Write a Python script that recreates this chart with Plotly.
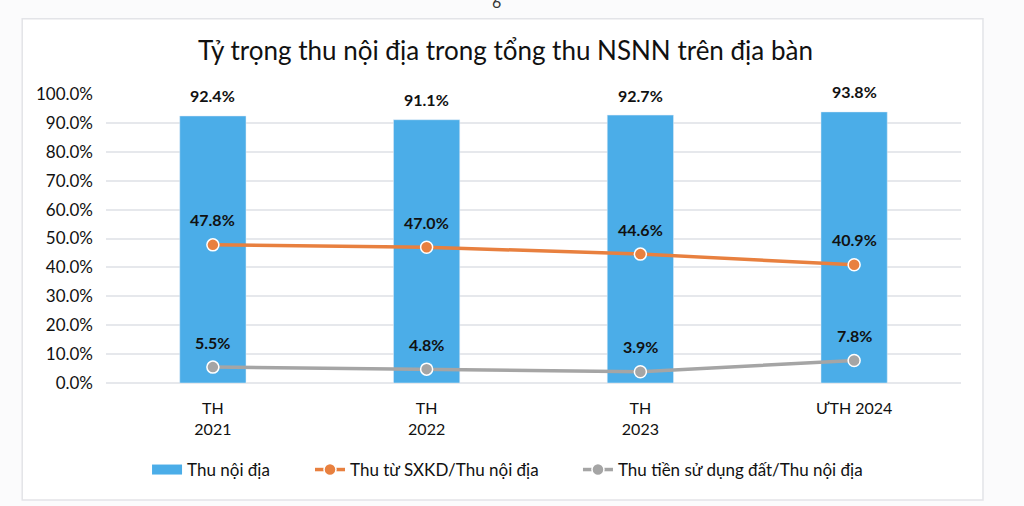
import plotly.graph_objects as go

categories = ["TH<br>2021", "TH<br>2022", "TH<br>2023", "ƯTH 2024"]
thu_noi_dia = [0.924, 0.911, 0.927, 0.938]
sxkd = [0.478, 0.470, 0.446, 0.409]
tien_dat = [0.055, 0.048, 0.039, 0.078]
series_names = ["Thu nội địa", "Thu từ SXKD/Thu nội địa", "Thu tiền sử dụng đất/Thu nội địa"]
title_text = "Tỷ trọng thu nội địa trong tổng thu NSNN trên địa bàn"

FONT = "Lato"
BLUE = "#4BADE8"
ORANGE = "#E8803F"
GRAY = "#A5A5A5"
TXT = "#111111"

fig = go.Figure()
fig.add_trace(go.Bar(
    x=categories, y=thu_noi_dia, name=series_names[0],
    marker=dict(color=BLUE), width=0.31, showlegend=False,
))
# legend entry for the bars, drawn as a wide swatch
fig.add_trace(go.Scatter(
    x=[None], y=[None], name=series_names[0], mode="lines",
    line=dict(color=BLUE, width=12), legend="legend",
))
fig.add_trace(go.Scatter(
    x=categories, y=sxkd, name=series_names[1], mode="lines+markers",
    line=dict(color=ORANGE, width=3.5),
    marker=dict(color=ORANGE, size=12, line=dict(color="white", width=1.5)),
    cliponaxis=False, legend="legend2",
))
fig.add_trace(go.Scatter(
    x=categories, y=tien_dat, name=series_names[2], mode="lines+markers",
    line=dict(color=GRAY, width=3.5),
    marker=dict(color=GRAY, size=12, line=dict(color="white", width=1.5)),
    cliponaxis=False, legend="legend3",
))

annotations = []
for series, shift in ((thu_noi_dia, 20), (sxkd, 25), (tien_dat, 25)):
    for c, v in zip(categories, series):
        annotations.append(dict(
            x=c, y=v, xref="x", yref="y", text=f"{v*100:.1f}%",
            showarrow=False, yshift=shift, yanchor="middle",
            font=dict(family=FONT, size=16, color=TXT, weight="bold"),
        ))

annotations.append(dict(
    x=0.467, y=1.152, xref="paper", yref="paper", text=title_text,
    showarrow=False, font=dict(family=FONT, size=26, color=TXT),
    xanchor="center", yanchor="middle",
))
annotations.append(dict(
    x=0.457, y=1.280, xref="paper", yref="paper", text="6",
    showarrow=False, font=dict(family=FONT, size=16, color="#333333"),
    xanchor="center", yanchor="bottom",
))

leg_common = dict(orientation="h", y=-0.301, yanchor="middle", xanchor="left",
                  font=dict(family=FONT, size=17, color=TXT),
                  bgcolor="rgba(0,0,0,0)", itemwidth=30)

fig.update_layout(
    width=1024, height=506,
    margin=dict(l=106, r=63, t=94, b=123),
    paper_bgcolor="#FBFBFC",
    plot_bgcolor="white",
    font=dict(family=FONT, size=16, color=TXT),
    showlegend=True,
    legend=dict(x=0.048, **leg_common),
    legend2=dict(x=0.2386, **leg_common),
    legend3=dict(x=0.552, **leg_common),
    annotations=annotations,
    shapes=[dict(type="rect", xref="paper", yref="paper",
                 x0=-0.098, x1=1.0257, y0=-0.405, y1=1.26,
                 line=dict(color="#E3E4E8", width=1.5), fillcolor="white", layer="below")],
)
fig.update_xaxes(showgrid=False, showline=False, ticks="",
                 tickfont=dict(family=FONT, size=16, color=TXT),
                 ticklabelstandoff=14)
fig.update_yaxes(range=[0, 1.0], dtick=0.1, tickformat=".1%",
                 showgrid=True, gridcolor="#E6E8EC", gridwidth=1.5,
                 zeroline=True, zerolinecolor="#E6E8EC", zerolinewidth=1.5,
                 tickfont=dict(family=FONT, size=17, color=TXT),
                 ticklabelstandoff=12)

fig.write_html("out.html", config={"displayModeBar": False},
               post_script="document.body.style.margin='0';")
